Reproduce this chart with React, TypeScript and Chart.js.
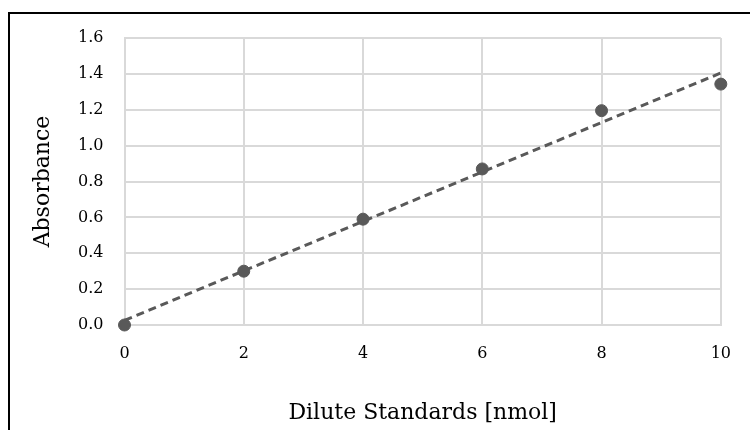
import React, { useEffect, useRef } from "react";
import { Chart, registerables } from "chart.js";

Chart.register(...registerables);

const standards = [0, 2, 4, 6, 8, 10];
const absorbance = [0, 0.3, 0.59, 0.87, 1.195, 1.343];
const trendX = [0, 10];
const trendY = [0.026, 1.405];
const xTitle = "Dilute Standards [nmol]";
const yTitle = "Absorbance";

const FONT = "'DejaVu Serif', 'Liberation Serif', serif";
const GRID = "#d9d9d9";
const MARK = "#595959";

export default function App() {
  const ref = useRef<HTMLCanvasElement | null>(null);

  useEffect(() => {
    if (!ref.current) return;
    const chart = new Chart(ref.current, {
      type: "scatter",
      data: {
        datasets: [
          {
            type: "scatter",
            label: "Absorbance",
            data: standards.map((x, i) => ({ x, y: absorbance[i] })),
            backgroundColor: MARK,
            borderColor: MARK,
            pointRadius: 6,
            pointHoverRadius: 6,
            clip: false,
            order: 1,
          } as any,
          {
            type: "line",
            label: "Trend",
            data: trendX.map((x, i) => ({ x, y: trendY[i] })),
            borderColor: MARK,
            borderWidth: 3,
            borderDash: [8, 5],
            pointRadius: 0,
            fill: false,
            clip: false,
            order: 2,
          } as any,
        ],
      },
      options: {
        responsive: false,
        animation: false,
        layout: { padding: { left: 0, top: 38, right: 28.5, bottom: 0 } },
        plugins: { legend: { display: false }, tooltip: { enabled: false } },
        scales: {
          x: {
            type: "linear",
            min: 0,
            max: 10,
            ticks: {
              stepSize: 2,
              padding: 19,
              color: "#000",
              font: { family: FONT, size: 16 },
            },
            grid: { color: GRID, drawTicks: false, lineWidth: 2 },
            border: { color: GRID, width: 2 },
            title: {
              display: true,
              text: xTitle,
              color: "#000",
              font: { family: FONT, size: 22 },
              padding: { top: 0, bottom: 4 },
            },
            afterFit: (s: any) => {
              s.height = 105;
            },
          },
          y: {
            type: "linear",
            min: 0,
            max: 1.6,
            ticks: {
              stepSize: 0.2,
              padding: 21,
              color: "#000",
              font: { family: FONT, size: 16 },
              callback: (v: any) => Number(v).toFixed(1),
            },
            grid: { color: GRID, drawTicks: false, lineWidth: 2 },
            border: { color: GRID, width: 2 },
            title: {
              display: true,
              text: yTitle,
              color: "#000",
              font: { family: FONT, size: 22 },
              padding: { top: 30, bottom: 0 },
            },
            afterFit: (s: any) => {
              s.width = 124.5;
            },
          },
        },
      },
    });
    return () => chart.destroy();
  }, []);

  return (
    <div
      style={{
        position: "fixed",
        left: 0,
        top: 0,
        width: 750,
        height: 430,
        overflow: "hidden",
        background: "#fff",
      }}
    >
      <div
        style={{
          position: "absolute",
          left: 8,
          top: 12,
          width: 800,
          height: 500,
          border: "2px solid #000",
        }}
      />
      <canvas
        ref={ref}
        width={750}
        height={430}
        style={{ position: "absolute", left: 0, top: 0, width: 750, height: 430 }}
      />
    </div>
  );
}
